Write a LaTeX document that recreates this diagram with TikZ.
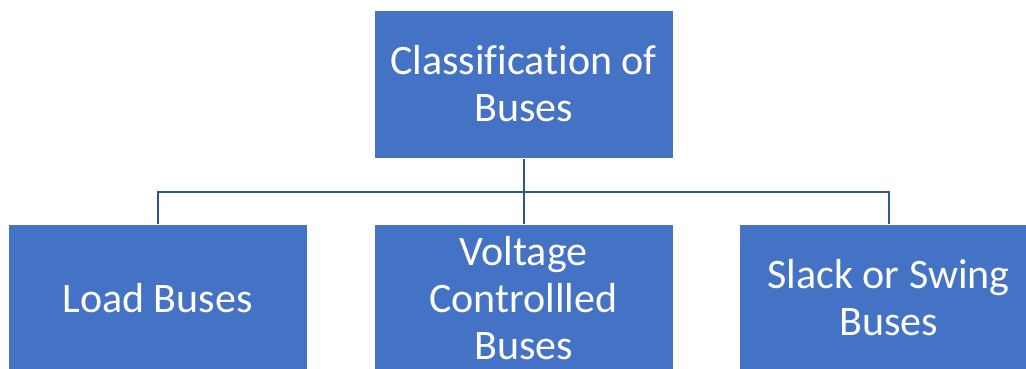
\documentclass[tikz,border=0pt]{standalone}
\usepackage{fontspec}
\setmainfont[Ligatures=NoCommon]{Carlito}
\definecolor{boxblue}{HTML}{4472C4}
\definecolor{linkblue}{HTML}{2F5597}
\begin{document}
\begin{tikzpicture}
    [
    x=1pt, y=-1pt,
    busbox/.style={rectangle,fill=boxblue,draw=white,line width=1pt,text=white,align=center,
      minimum width=299pt,minimum height=148pt,inner sep=0pt,font=\fontsize{42}{47}\selectfont},
    link/.style={draw=linkblue,line width=2pt}
    ]
    \clip (0,0) rectangle (1026,368);
    \node (top) at (523.5,84) [busbox] {Classification of\\Buses};
    \node (load) at (157.5,298) [busbox] {Load Buses};
    \node (volt) at (523.5,298) [busbox] {Voltage\\Controllled\\Buses};
    \node (slack) at (888.5,298) [busbox] {Slack or Swing\\Buses};
    \coordinate (split) at (523.5,192);
    \draw [link] (top.south) to (split);
    \draw [link] (load.north) |- (split) -| (slack.north);
    \draw [link] (split) to (volt.north);
  \end{tikzpicture}
\end{document}
